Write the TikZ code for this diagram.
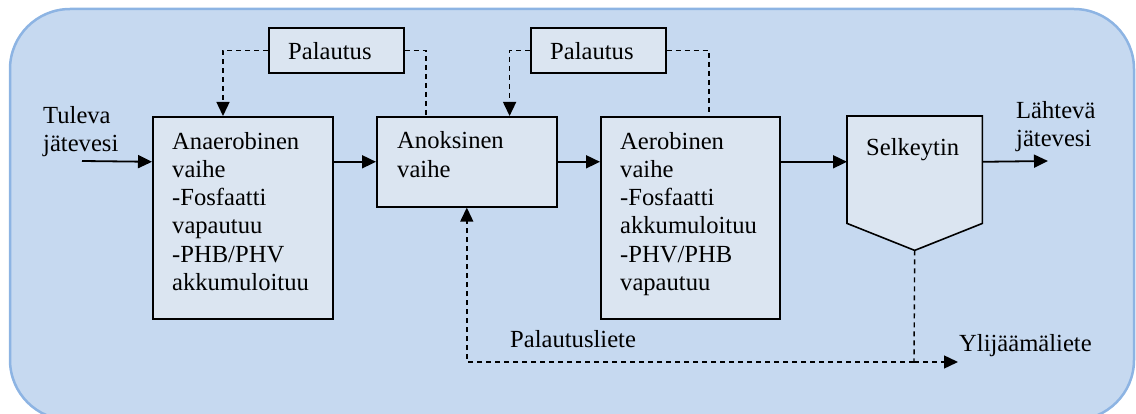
\documentclass[tikz,border=0pt]{standalone}
\usepackage{fontspec}
\setmainfont{Liberation Serif}
\usetikzlibrary{arrows.meta}
\definecolor{panelfill}{RGB}{198,217,240}
\definecolor{panelline}{RGB}{141,180,227}
\definecolor{boxfill}{RGB}{219,229,241}
\begin{document}
\begin{tikzpicture}[x=1pt,y=-1pt,
  stage/.style={draw=black, line width=1.6pt, fill=boxfill, inner sep=0pt, anchor=north west},
  txt/.style={anchor=base west, inner sep=0pt, align=left, font=\fontsize{24.6}{28.3}\selectfont},
  flow/.style={line width=1.8pt, -{Triangle[length=14pt,width=13pt]}},
  ret/.style={line width=1.4pt, dash pattern=on 5pt off 4pt},
  retarrow/.style={ret, -{Triangle[length=14pt,width=13pt]}}]
\useasboundingbox (0,0) rectangle (1136,414);
\clip (0,0) rectangle (1136,414);
% rounded panel behind the process
\draw[fill=panelfill, draw=panelline, line width=2.5pt, rounded corners=60pt] (10,9) rectangle (1134,420);

% process stages
\node[stage, minimum width=180pt, minimum height=202pt] (ana) at (152,116) {};
\node[stage, minimum width=180pt, minimum height=90pt]  (ano) at (376,116) {};
\node[stage, minimum width=179pt, minimum height=202pt] (aer) at (600,116) {};
\node[stage, minimum width=135pt, minimum height=45pt]  (pal1) at (268,27) {};
\node[stage, minimum width=135pt, minimum height=45pt]  (pal2) at (530,27) {};

% clarifier: rectangle part plus a pointed bottom
\node[inner sep=0pt, anchor=north west, minimum width=135pt, minimum height=107pt] (sel) at (847,116) {};
\coordinate (tip) at ([yshift=-27pt]sel.south);
\draw[line width=1.6pt, fill=boxfill] (sel.north west) -- (sel.north east) -- (sel.south east)
  -- (tip) -- (sel.south west) -- cycle;

% texts (multi-line nodes are placed by the baseline of their last line)
\node[txt] (tana) at (172,290.5) {Anaerobinen\\vaihe\\-Fosfaatti\\vapautuu\\-PHB/PHV\\akkumuloituu};
\node[txt] (tano) at (397,177.3) {Anoksinen\\vaihe};
\node[txt] (taer) at (620,290.5) {Aerobinen\\vaihe\\-Fosfaatti\\akkumuloituu\\-PHV/PHB\\vapautuu};
\node[txt] (tsel) at (866,156) {Selkeytin};
\node[txt] (tp1) at (288,60) {Palautus};
\node[txt] (tp2) at (550,60) {Palautus};
\node[txt] (tin) at (43,152) {Tuleva\\jätevesi};
\node[txt] (tout) at (1016,147) {Lähtevä\\jätevesi};
\node[txt] (tret) at (510,348) {Palautusliete};
\node[txt] (tex) at (959,352) {Ylijäämäliete};

% main flow
\coordinate (in) at (82,161);
\coordinate (out) at (1048,161);
\draw[flow] (in) -- (ano.west -| ana.west);
\draw[flow] (ano.west -| ana.east) -- (ano.west);
\draw[flow] (ano.east) -- (ano.east -| aer.west);
\draw[flow] (ano.east -| aer.east) -- (ano.east -| sel.west);
\draw[flow] (ano.east -| sel.east) -- (out);

% internal recycles
\draw[retarrow] (pal1.west) -| ([xshift=71pt]ana.north west);
\draw[ret] (pal1.east) -| ([xshift=50pt]ano.north west);
\draw[retarrow] (pal2.west) -| ([xshift=-48pt]ano.north east);
\draw[ret] (pal2.east) -| ([xshift=109pt]aer.north west);

% sludge return and excess sludge
\coordinate (split) at (914,362);
\coordinate (excess) at (958,362);
\draw[ret] (tip) -- (split);
\draw[retarrow] (split) -| (ano.south);
\draw[retarrow] (split) -- (excess);
\end{tikzpicture}
\end{document}
